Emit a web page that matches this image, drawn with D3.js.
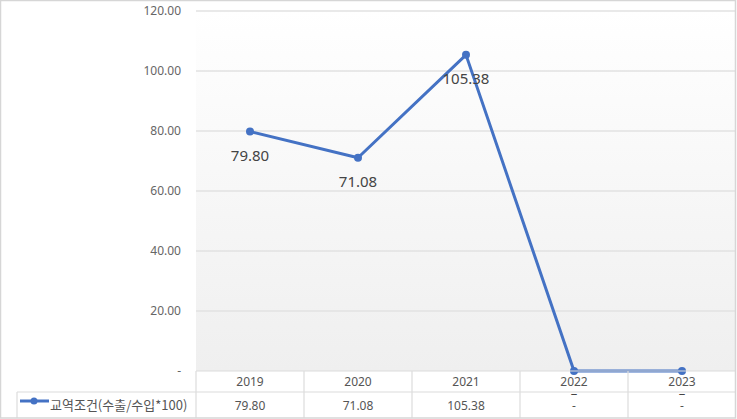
<!DOCTYPE html>
<html><head><meta charset="utf-8">
<script src="https://cdn.jsdelivr.net/npm/d3@7"></script>
<style>
html,body{margin:0;padding:0;background:#fff;}
svg{display:block;font-family:"Noto Sans","Noto Sans CJK KR",sans-serif;}
</style></head>
<body>
<svg id="c" width="737" height="419"></svg>
<script>
const categories = ["2019","2020","2021","2022","2023"];
const seriesName = "교역조건(수출/수입*100)";
const values = [79.80, 71.08, 105.38, 0, 0];
const yTicks = [0, 20, 40, 60, 80, 100, 120];

(function(){
const fmt = v => v === 0 ? "-" : d3.format(".2f")(v);

const svg = d3.select("#c");
const W = 737, H = 419;
const pL = 196, pR = 736, pT = 11, pB = 371;
const tableMid = 392, tableBottom = 418, legendLeft = 17;

const x = d3.scaleBand().domain(categories).range([pL, pR]).padding(0);
const y = d3.scaleLinear().domain([0, 120]).range([pB, pT]);

const defs = svg.append("defs");
const grad = defs.append("linearGradient").attr("id","bg").attr("x1",0).attr("y1",0).attr("x2",0).attr("y2",1);
grad.append("stop").attr("offset","0%").attr("stop-color","#ffffff");
grad.append("stop").attr("offset","100%").attr("stop-color","#efefef");

svg.append("rect").attr("x", pL).attr("y", pT).attr("width", pR-pL).attr("height", pB-pT).attr("fill","url(#bg)");

svg.append("g").selectAll("line").data(yTicks.filter(t=>t>0)).join("line")
  .attr("x1", pL).attr("x2", pR)
  .attr("y1", d=>y(d)).attr("y2", d=>y(d))
  .attr("stroke","#e2e2e2").attr("stroke-width",1.5);

const yAxis = d3.axisLeft(y).tickValues(yTicks).tickFormat(fmt).tickSize(0).tickPadding(0);
const ga = svg.append("g").attr("transform",`translate(${pL-15},0)`).call(yAxis);
ga.select(".domain").remove();
ga.selectAll("text").attr("font-size",12).attr("fill","#666").attr("font-family","Noto Sans, sans-serif");

const line = d3.line().x((d,i)=>x(categories[i])+x.bandwidth()/2).y(d=>y(d));
svg.append("path").datum(values).attr("d", line).attr("fill","none")
  .attr("stroke","#4472c4").attr("stroke-width",3).attr("stroke-linejoin","round");
svg.append("g").selectAll("circle").data(values).join("circle")
  .attr("cx",(d,i)=>x(categories[i])+x.bandwidth()/2).attr("cy",d=>y(d)).attr("r",4).attr("fill","#4472c4");

svg.append("g").selectAll("text").data(values).join("text")
  .attr("x",(d,i)=>x(categories[i])+x.bandwidth()/2)
  .attr("y",d=>y(d)+ (d===0 ? 27 : 29))
  .attr("text-anchor","middle").attr("font-size",d=>d===0?13:15).attr("fill","#444")
  .text(d => d===0 ? "\u2013" : fmt(d));

const tg = svg.append("g").attr("stroke","#dcdcdc").attr("stroke-width",1.2);
tg.append("line").attr("x1",pL).attr("x2",pR).attr("y1",pB).attr("y2",pB);
tg.append("line").attr("x1",legendLeft).attr("x2",pR).attr("y1",tableMid).attr("y2",tableMid);
tg.append("line").attr("x1",legendLeft).attr("x2",legendLeft).attr("y1",tableMid).attr("y2",tableBottom);
tg.selectAll(".v").data(categories).join("line")
  .attr("x1",d=>x(d)).attr("x2",d=>x(d)).attr("y1",pB).attr("y2",tableBottom);

svg.append("g").selectAll("text").data(categories).join("text")
  .attr("x",d=>x(d)+x.bandwidth()/2).attr("y",386)
  .attr("text-anchor","middle").attr("font-size",12).attr("fill","#555").text(d=>d);
svg.append("g").selectAll("text").data(values).join("text")
  .attr("x",(d,i)=>x(categories[i])+x.bandwidth()/2).attr("y",410)
  .attr("text-anchor","middle").attr("font-size",12).attr("fill","#555").text(fmt);

svg.append("line").attr("x1",20).attr("x2",49).attr("y1",401).attr("y2",401).attr("stroke","#4472c4").attr("stroke-width",3);
svg.append("circle").attr("cx",34).attr("cy",401).attr("r",3.5).attr("fill","#4472c4");
svg.append("text").attr("x",50).attr("y",410).attr("font-size",13).attr("fill","#555")
  .attr("font-family","Noto Sans CJK KR, sans-serif").text(seriesName);

svg.append("rect").attr("x",0.5).attr("y",0.5).attr("width",W-2).attr("height",H-1.5)
  .attr("fill","none").attr("stroke","#d6d6d6").attr("stroke-width",1.5);
})();
</script>
</body></html>
